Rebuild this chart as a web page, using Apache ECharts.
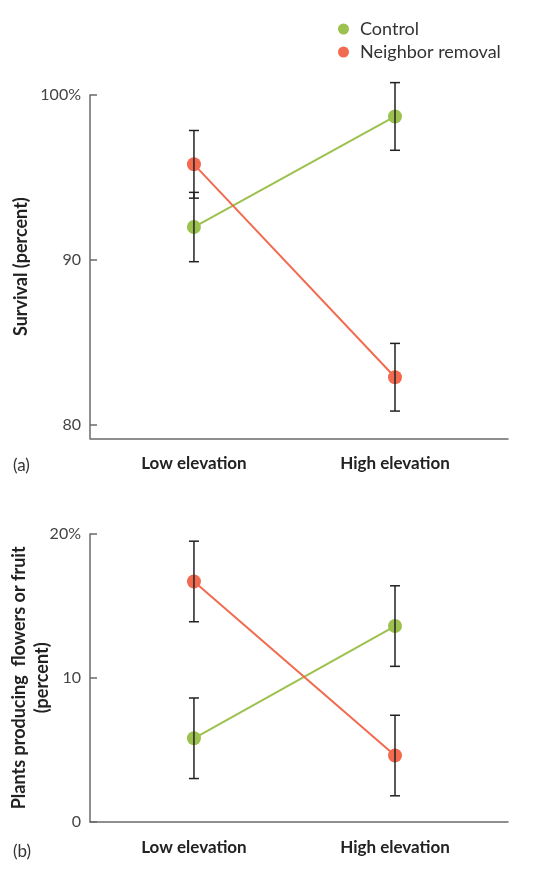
<!DOCTYPE html>
<html>
<head>
<meta charset="utf-8">
<script src="https://cdn.jsdelivr.net/npm/echarts@6/dist/echarts.min.js"></script>
<style>
html,body{margin:0;padding:0;background:#fff;}
#chart{width:534px;height:872px;}
</style>
</head>
<body>
<div id="chart"></div>
<script>
const categories = ['Low elevation', 'High elevation'];
const seriesNames = ['Control', 'Neighbor removal'];
const survivalControl = [92.0, 98.7];
const survivalControlErr = [2.1, 2.05];
const survivalRemoval = [95.8, 82.9];
const survivalRemovalErr = [2.05, 2.05];
const flowerControl = [5.8, 13.6];
const flowerControlErr = [2.8, 2.8];
const flowerRemoval = [16.7, 4.6];
const flowerRemovalErr = [2.8, 2.8];
const survivalTicks = [80, 90, 100];
const survivalTickLabels = ['80', '90', '100%'];
const flowerTicks = [0, 10, 20];
const flowerTickLabels = ['0', '10', '20%'];

const GREEN = '#9dc14e';
const RED = '#f26a4f';
const AXIS = '#6a6a6a';
const FONT = 'Lato, "Open Sans", sans-serif';

const xPos = categories.map((c, i) => i + 1);

function pts(vals) { return vals.map((v, i) => [xPos[i], v]); }
function errs(vals, e) { return vals.map((v, i) => [xPos[i], v - e[i], v + e[i]]); }

function errorSeries(idx, data) {
  return {
    type: 'custom', xAxisIndex: idx, yAxisIndex: idx, z: 10, silent: true,
    data: data,
    encode: { x: 0, y: [1, 2] },
    renderItem: function (params, api) {
      const x = api.value(0);
      const lo = api.coord([x, api.value(1)]);
      const hi = api.coord([x, api.value(2)]);
      const w = 5;
      const st = { stroke: '#222', lineWidth: 1.5 };
      return {
        type: 'group',
        children: [
          { type: 'line', shape: { x1: lo[0], y1: lo[1], x2: hi[0], y2: hi[1] }, style: st },
          { type: 'line', shape: { x1: lo[0] - w, y1: lo[1], x2: lo[0] + w, y2: lo[1] }, style: st },
          { type: 'line', shape: { x1: hi[0] - w, y1: hi[1], x2: hi[0] + w, y2: hi[1] }, style: st }
        ]
      };
    }
  };
}

function lineSeries(idx, name, color, vals) {
  return {
    type: 'line', name: name, xAxisIndex: idx, yAxisIndex: idx,
    data: pts(vals), symbol: 'circle', symbolSize: 14, z: 5,
    itemStyle: { color: color }, lineStyle: { color: color, width: 2 },
    emphasis: { disabled: true }
  };
}

function xAxisCfg(idx) {
  return {
    type: 'value', gridIndex: idx, min: 0.483, max: 2.562,
    axisLine: { show: true, onZero: false, lineStyle: { color: AXIS, width: 1.5 } },
    axisTick: { show: false },
    splitLine: { show: false },
    axisLabel: {
      customValues: xPos, margin: 17,
      formatter: function (v) { return categories[Math.round(v) - 1] || ''; },
      fontFamily: FONT, fontWeight: 'bold', fontSize: 17, color: '#222'
    }
  };
}

function yAxisCfg(idx, min, max, ticks, labels, name, nameGap, lineHeight) {
  return {
    type: 'value', gridIndex: idx, min: min, max: max,
    name: name, nameLocation: 'middle', nameGap: nameGap, nameMoveOverlap: false,
    nameTextStyle: { fontFamily: FONT, fontWeight: 'bold', fontSize: 18, color: '#222', lineHeight: lineHeight },
    axisLine: { show: true, lineStyle: { color: AXIS, width: 1.5 } },
    axisTick: { show: true, inside: true, length: 7, customValues: ticks, lineStyle: { color: AXIS, width: 1.5 } },
    splitLine: { show: false },
    axisLabel: {
      customValues: ticks, margin: 9,
      formatter: function (v) { const i = ticks.indexOf(v); return i >= 0 ? labels[i] : ''; },
      fontFamily: FONT, fontSize: 16, color: '#444'
    }
  };
}

const chart = echarts.init(document.getElementById('chart'), null, { renderer: 'canvas' });
chart.setOption({
  animation: false,
  backgroundColor: '#fff',
  title: [
    { text: '(a)', left: 8, top: 452, padding: 5, textStyle: { fontFamily: FONT, fontWeight: 'normal', fontSize: 17, color: '#333' } },
    { text: '(b)', left: 8, top: 838, padding: 5, textStyle: { fontFamily: FONT, fontWeight: 'normal', fontSize: 17, color: '#333' } }
  ],
  legend: {
    orient: 'vertical', left: 338, top: 20, padding: 0,
    data: seriesNames.map((n, i) => ({ name: n, icon: 'circle', itemStyle: { color: i === 0 ? GREEN : RED } })),
    itemWidth: 11, itemHeight: 11, itemGap: 5,
    textStyle: { fontFamily: FONT, fontSize: 18, color: '#333', lineHeight: 18, padding: [0, 0, 0, 6] },
    selectedMode: false
  },
  grid: [
    { left: 90, right: 26, top: 95, bottom: 872 - 438.3, outerBoundsMode: 'none', containLabel: false },
    { left: 90, right: 26, top: 534, bottom: 872 - 821.7, outerBoundsMode: 'none', containLabel: false }
  ],
  xAxis: [xAxisCfg(0), xAxisCfg(1)],
  yAxis: [
    yAxisCfg(0, 79.2, 100, survivalTicks, survivalTickLabels, 'Survival (percent)', 59, 19),
    yAxisCfg(1, 0, 20, flowerTicks, flowerTickLabels, 'Plants producing  flowers or fruit\n(percent)', 36, 23)
  ],
  series: [
    lineSeries(0, seriesNames[0], GREEN, survivalControl),
    lineSeries(0, seriesNames[1], RED, survivalRemoval),
    errorSeries(0, errs(survivalControl, survivalControlErr).concat(errs(survivalRemoval, survivalRemovalErr))),
    lineSeries(1, seriesNames[0], GREEN, flowerControl),
    lineSeries(1, seriesNames[1], RED, flowerRemoval),
    errorSeries(1, errs(flowerControl, flowerControlErr).concat(errs(flowerRemoval, flowerRemovalErr)))
  ]
});
</script>
</body>
</html>
